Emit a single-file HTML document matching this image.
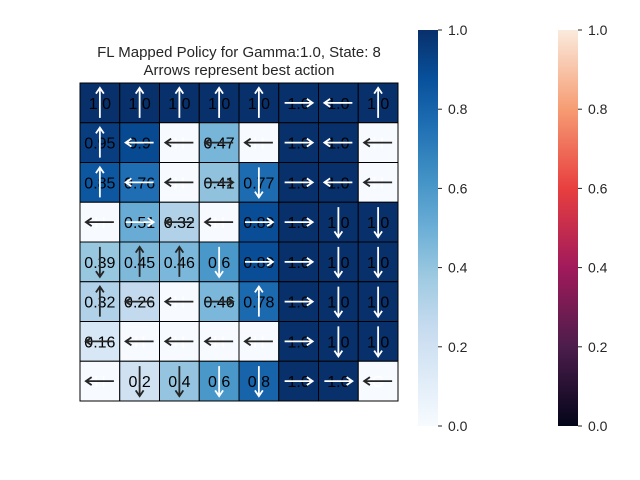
<!DOCTYPE html>
<html><head><meta charset="utf-8"><style>
body{margin:0;background:#fff;}
svg{display:block;font-family:"Liberation Sans","DejaVu Sans",sans-serif;}
</style></head><body>
<svg id="c" width="640" height="480">
<defs>
<linearGradient id="blues" x1="0" y1="1" x2="0" y2="0">
<stop offset="0" stop-color="#f7fbff"/><stop offset="0.125" stop-color="#deebf7"/><stop offset="0.25" stop-color="#c6dbef"/><stop offset="0.375" stop-color="#9ecae1"/><stop offset="0.5" stop-color="#6baed6"/><stop offset="0.625" stop-color="#4292c6"/><stop offset="0.75" stop-color="#2171b5"/><stop offset="0.875" stop-color="#08519c"/><stop offset="1" stop-color="#08306b"/>
</linearGradient>
<linearGradient id="rocket" x1="0" y1="1" x2="0" y2="0">
<stop offset="0" stop-color="#03051a"/><stop offset="0.2" stop-color="#4c1d4b"/><stop offset="0.4" stop-color="#a11a5b"/><stop offset="0.6" stop-color="#e83f3f"/><stop offset="0.8" stop-color="#f69c73"/><stop offset="1" stop-color="#faebdd"/>
</linearGradient>
</defs>
<text x="239" y="57" text-anchor="middle" font-size="15" fill="#262626">FL Mapped Policy for Gamma:1.0, State: 8</text>
<text x="239" y="75" text-anchor="middle" font-size="15" fill="#262626">Arrows represent best action</text>
<g id="grid"></g>
<rect x="418" y="30" width="20" height="396" fill="url(#blues)"/>
<rect x="558" y="30" width="20" height="396" fill="url(#rocket)"/>
<g id="cb" font-size="14" fill="#262626"></g>
</svg>
<script>
const values=[
[1,1,1,1,1,1,1,1],
[0.95,0.9,0,0.47,0,1,1,0],
[0.85,0.76,0,0.41,0.77,1,1,0],
[0,0.51,0.32,0,0.89,1,1,1],
[0.39,0.45,0.46,0.6,0.89,1,1,1],
[0.32,0.26,0,0.46,0.78,1,1,1],
[0.16,0,0,0,0,1,1,1],
[0,0.2,0.4,0.6,0.8,1,1,0]];
const actions=[
"UUUUURLU","ULLLLRLL","ULLRDRLL","LRLLRRDD","DUUDRRDD","ULLRURDD","LLLLLRDD","LDDDDRRL"];
const labels=[
["1.0","1.0","1.0","1.0","1.0","1.0","1.0","1.0"],
["0.95","0.9","H","0.47","H","1.0","1.0","H"],
["0.85","0.76","H","0.41","0.77","1.0","1.0","H"],
["H","0.51","0.32","H","0.89","1.0","1.0","1.0"],
["0.39","0.45","0.46","0.6","0.89","1.0","1.0","1.0"],
["0.32","0.26","H","0.46","0.78","1.0","1.0","1.0"],
["0.16","H","H","H","H","1.0","1.0","1.0"],
["H","0.2","0.4","0.6","0.8","1.0","1.0","G"]];
const ticks=[0,0.2,0.4,0.6,0.8,1.0];
const stops=[[0,[247,251,255]],[0.125,[222,235,247]],[0.25,[198,219,239]],[0.375,[158,202,225]],[0.5,[107,174,214]],[0.625,[66,146,198]],[0.75,[33,113,181]],[0.875,[8,81,156]],[1,[8,48,107]]];
function blues(v){for(let i=1;i<stops.length;i++){if(v<=stops[i][0]){const a=stops[i-1],b=stops[i],t=(v-a[0])/(b[0]-a[0]);return 'rgb('+a[1].map((c,k)=>Math.round(c+(b[1][k]-c)*t)).join(',')+')';}}return 'rgb(8,48,107)';}
const NS="http://www.w3.org/2000/svg";
const X0=80,Y0=83,CW=39.75;
const xS=c=>X0+c*CW, yS=r=>Y0+r*CW;
const g=document.getElementById('grid');
function mk(tag,at,parent){const e=document.createElementNS(NS,tag);for(const k in at)e.setAttribute(k,at[k]);parent.appendChild(e);return e;}
values.forEach((row,r)=>row.forEach((v,c)=>{
  const x=xS(c),y=yS(r);
  const rc=mk('rect',{x:x,y:y,width:CW,height:CW,fill:blues(v),stroke:'#000','stroke-width':1},g);
  
  
  const t=mk('text',{x:x+CW/2,y:y+CW/2+6,'text-anchor':'middle','font-size':16,fill:labels[r][c].match(/[HG]/)?'#fff':'#000'},g);
  t.textContent=labels[r][c];
  
  
  const col=v>0.5?'#fff':'#262626';
  const cx=x+CW/2,cy=y+CW/2,a=actions[r][c];
  let x1,y1,x2,y2;
  if(a==='U'){x1=cx;y1=cy+15;x2=cx;y2=cy-15;}
  if(a==='D'){x1=cx;y1=cy-15;x2=cx;y2=cy+15;}
  if(a==='L'){x1=cx+14;y1=cy;x2=cx-14;y2=cy;}
  if(a==='R'){x1=cx-14;y1=cy;x2=cx+14;y2=cy;}
  const ang=Math.atan2(y2-y1,x2-x1),h=7;
  const p=mk('path',{d:`M${x1},${y1}L${x2},${y2}M${x2-h*Math.cos(ang-0.6)},${y2-h*Math.sin(ang-0.6)}L${x2},${y2}L${x2-h*Math.cos(ang+0.6)},${y2-h*Math.sin(ang+0.6)}`,stroke:col,'stroke-width':1.8,fill:'none'},g);
  
  
}));
const cb=document.getElementById('cb');
[438,578].forEach(bx=>ticks.forEach(tv=>{
  const y=426-tv*396;
  const l=mk('line',{x1:bx,x2:bx+4,y1:y,y2:y,stroke:'#262626'},cb);
  
  
  const t=mk('text',{x:bx+10,y:y+5},cb);
  t.textContent=tv.toFixed(1);
  
  
}));
</script>
</body></html>
